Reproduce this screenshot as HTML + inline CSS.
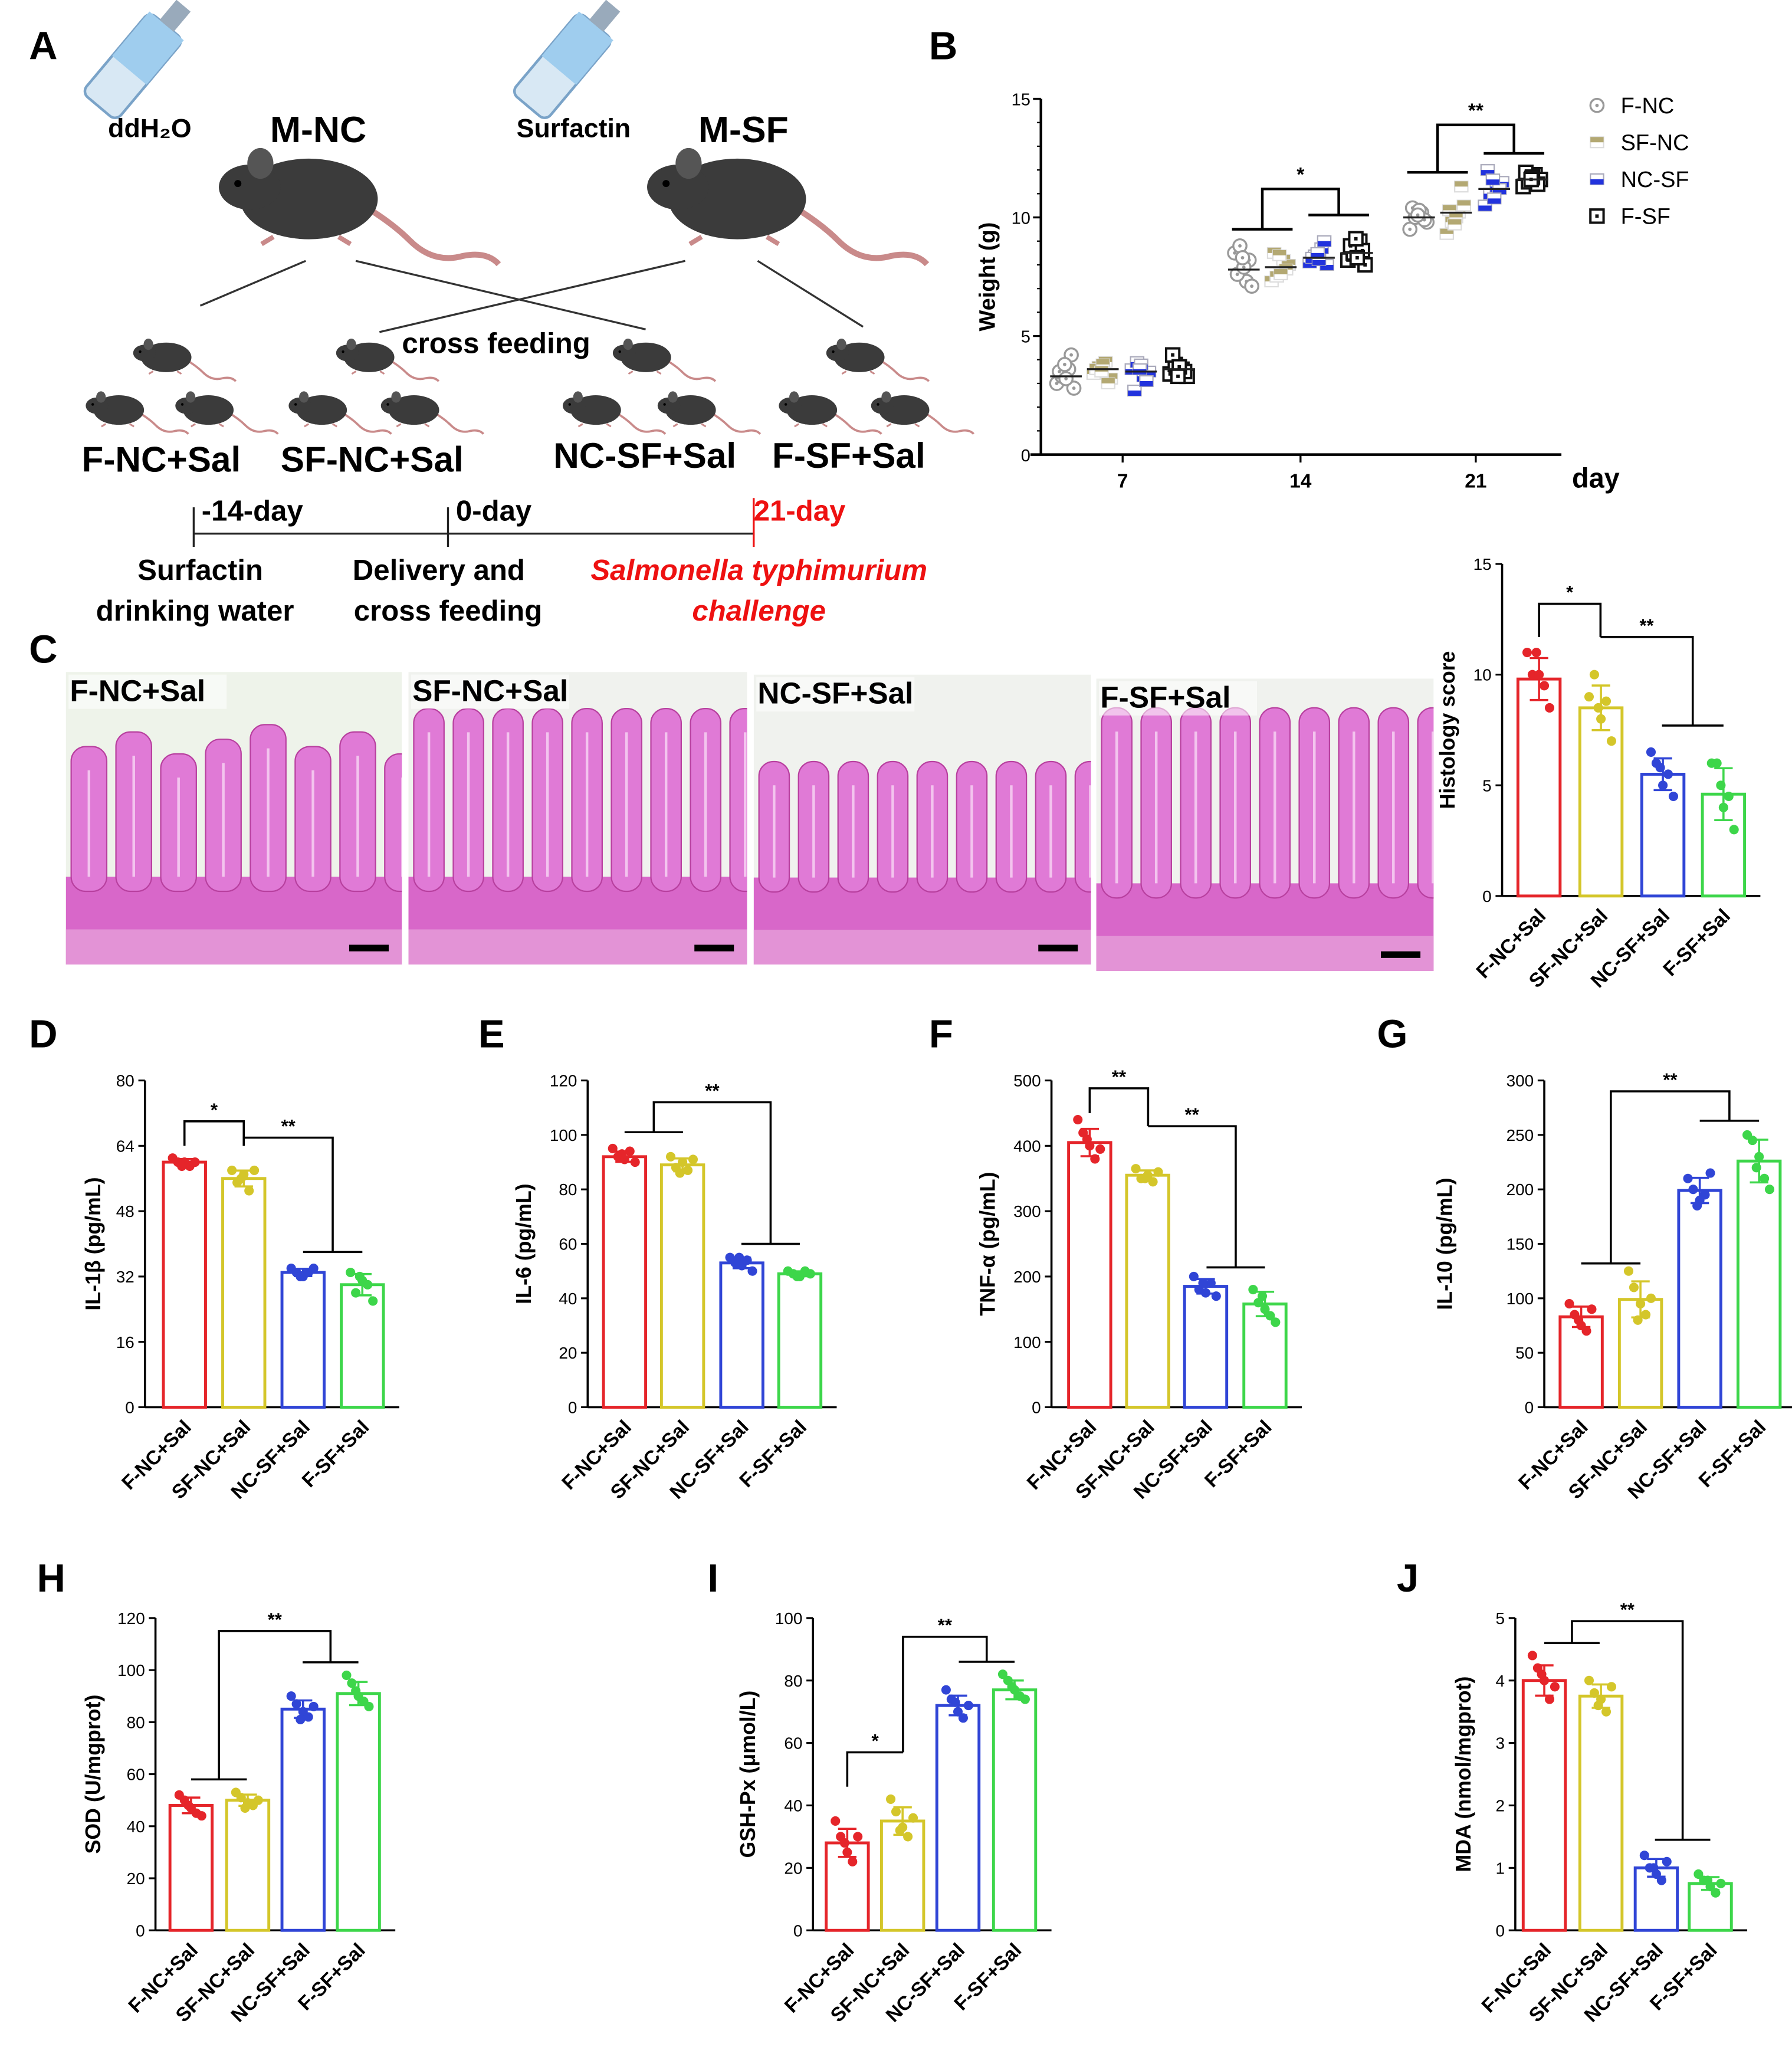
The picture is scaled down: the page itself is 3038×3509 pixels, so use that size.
<!DOCTYPE html>
<html><head><meta charset="utf-8"><style>
html,body{margin:0;padding:0;background:#fff}
svg{display:block}
text{font-family:"Liberation Sans",Arial,sans-serif}
</style></head><body>
<svg id="fig" xmlns="http://www.w3.org/2000/svg" width="3038" height="3509" viewBox="0 0 1360 1571" preserveAspectRatio="none">
<rect width="1360" height="1571" fill="#fff"/>
<g id="panelA">
<g id="bottles"></g>
<g id="mice"></g>
<text x="22" y="45" font-size="30" font-weight="bold">A</text>
<text x="82" y="104" font-size="20" font-weight="bold">ddH₂O</text>
<text x="205" y="108" font-size="28" font-weight="bold">M-NC</text>
<text x="392" y="104" font-size="20" font-weight="bold">Surfactin</text>
<text x="530" y="108" font-size="28" font-weight="bold">M-SF</text>
<text x="305" y="268" font-size="22" font-weight="bold">cross feeding</text>
<g font-size="27" font-weight="bold">
<text x="62" y="358">F-NC+Sal</text>
<text x="213" y="358">SF-NC+Sal</text>
<text x="420" y="355">NC-SF+Sal</text>
<text x="586" y="355">F-SF+Sal</text>
</g>
<g stroke="#222" stroke-width="1.5">
<line x1="147" y1="405" x2="572" y2="405"/><line x1="147" y1="385" x2="147" y2="415"/><line x1="340" y1="385" x2="340" y2="415"/><line x1="572" y1="378" x2="572" y2="415" stroke="#e11"/>
</g>
<g font-size="22" font-weight="bold">
<text x="153" y="395">-14-day</text>
<text x="346" y="395">0-day</text>
<text x="572" y="395" fill="#e11">21-day</text>
<text x="152" y="440" text-anchor="middle">Surfactin</text>
<text x="148" y="471" text-anchor="middle">drinking water</text>
<text x="333" y="440" text-anchor="middle">Delivery and</text>
<text x="340" y="471" text-anchor="middle">cross feeding</text>
<text x="576" y="440" text-anchor="middle" fill="#e11" font-style="italic">Salmonella typhimurium</text>
<text x="576" y="471" text-anchor="middle" fill="#e11" font-style="italic">challenge</text>
</g>
<g stroke="#333" stroke-width="1.5" fill="none">
<line x1="232" y1="198" x2="152" y2="232"/><line x1="270" y1="198" x2="490" y2="250"/><line x1="520" y1="198" x2="288" y2="252"/><line x1="575" y1="198" x2="655" y2="248"/>
</g>
</g>
<g id="panelB"></g>
<g id="panelC"></g>
<g id="charts"></g>
</svg>
<script>
// ---------- data ----------
const groups=['F-NC+Sal','SF-NC+Sal','NC-SF+Sal','F-SF+Sal'];
const days=['7','14','21'];
const weightSeries=['F-NC','SF-NC','NC-SF','F-SF'];
const weightMeans=[[3.3,3.6,3.5,3.6],[7.8,7.9,8.3,8.5],[10.0,10.2,11.2,11.6]];
const weightPts=[
 [[3.0,3.3,3.6,2.8,3.5,4.2,3.2,3.8],[3.4,3.7,3.9,3.2,3.6,3.0,3.8,3.5],[3.6,3.9,3.3,3.5,2.7,3.1,3.8,3.6],[3.4,3.8,3.6,3.3,4.2,3.5,3.7,3.3]],
 [[8.5,8.8,7.3,7.1,7.6,8.2,7.9,8.3],[7.3,7.5,8.2,8.0,8.5,7.8,7.6,8.4],[8.1,8.4,8.7,8.0,8.3,9.0,8.2,8.5],[8.2,8.5,9.0,8.0,8.8,8.6,8.3,9.1]],
 [[9.5,10.0,10.2,9.8,10.4,9.9,10.3,10.1],[9.3,9.8,10.2,10.5,10.3,11.3,10.0,9.7],[10.5,11.0,11.3,11.5,12.0,11.2,10.8,11.6],[11.3,11.5,11.8,11.6,11.9,11.4,11.7,11.6]]
];
const histMeans=[9.8,8.5,5.5,4.6];
const histPts=[[11,10,10,9.5,8.5,11],[9,10,8,8.8,7,8.5],[6.5,6,5,5.5,4.5,5.8],[6,6,4,4.5,3,5]];
const il1bMeans=[60,56,33,30];
const il1bPts=[[61,60,60,59,60,59],[58,55,57,53,58,56],[34,33,32,33,34,32],[33,28,31,30,26,32]];
const il6Means=[92,89,53,49];
const il6Pts=[[95,92,91,94,90,93],[92,88,90,87,91,86],[55,53,52,54,50,55],[50,49,48,50,49,48]];
const tnfMeans=[405,355,185,158];
const tnfPts=[[440,420,400,380,395,410],[365,350,355,345,360,350],[200,180,175,190,170,190],[180,160,150,140,130,170]];
const il10Means=[83,99,199,226];
const il10Pts=[[95,85,75,70,90,80],[125,110,95,85,100,80],[210,200,190,195,215,185],[250,245,230,210,200,220]];
const sodMeans=[48,50,85,91];
const sodPts=[[52,50,47,45,44,48],[53,51,49,48,50,47],[90,87,84,82,86,81],[98,95,90,88,86,92]];
const gshMeans=[28,35,72,77];
const gshPts=[[35,30,25,22,30,28],[42,38,33,30,36,32],[77,74,70,68,72,73],[82,80,77,75,74,78]];
const mdaMeans=[4.0,3.75,1.0,0.75];
const mdaPts=[[4.4,4.2,4.0,3.7,3.9,4.1],[4.0,3.8,3.7,3.5,3.9,3.6],[1.2,1.0,0.9,0.8,1.1,1.0],[0.9,0.8,0.7,0.6,0.75,0.8]];

const NS='http://www.w3.org/2000/svg';
const colors=['#e5252a','#d4c62a','#3045d6','#3dd64a'];
function mk(parent,tag,attrs,txt){const e=document.createElementNS(NS,tag);for(const k in attrs)e.setAttribute(k,attrs[k]);if(txt!==undefined)e.textContent=txt;parent.appendChild(e);return e;}

// ---------- mice / bottles ----------
const M=document.getElementById('mice');
function mouse(x,y,s){
 const g=mk(M,'g',{transform:`translate(${x},${y}) scale(${s})`});
 
 
 mk(g,'path',{d:'M100,45 Q125,60 140,75 Q160,95 185,88 Q205,84 215,95',fill:'none',stroke:'#c98a8a','stroke-width':5});
 mk(g,'ellipse',{cx:55,cy:40,rx:58,ry:34,fill:'#3b3b3b'});
 mk(g,'ellipse',{cx:5,cy:30,rx:26,ry:19,fill:'#3b3b3b'});
 mk(g,'ellipse',{cx:14,cy:10,rx:11,ry:13,fill:'#555'});
 mk(g,'circle',{cx:-5,cy:27,r:3,fill:'#000'});
 mk(g,'path',{d:'M25,72 l-10,6 M80,72 l10,6',stroke:'#c98a8a','stroke-width':4});
}
mouse(185,115,0.9);mouse(510,115,0.9);
[[108,258],[72,298],[140,298],[262,258],[226,298],[296,298],[472,258],[434,298],[506,298],[634,258],[598,298],[668,298]].forEach(p=>mouse(p[0],p[1],0.33));
const BT=document.getElementById('bottles');
function bottle(x,y){
 const g=mk(BT,'g',{transform:`translate(${x},${y}) rotate(-50)`});
 
 
 mk(g,'rect',{x:0,y:0,width:80,height:34,rx:6,fill:'#d8e8f4',stroke:'#7aa3c8','stroke-width':2});
 mk(g,'rect',{x:36,y:0,width:44,height:34,fill:'#9fcdee'});
 mk(g,'rect',{x:80,y:10,width:20,height:14,fill:'#9ab'});
}
bottle(62,70);bottle(388,70);

// ---------- panel B ----------
(function(){
 const B=document.getElementById('panelB');
 const x0=790,x1=1185,yT=75,yB=345,max=15;
 const y=v=>yB-(v/max)*(yB-yT);
 const dayX=[852,987,1120],off=[-43,-15,14,43];
 mk(B,'text',{x:705,y:45,'font-size':30,'font-weight':'bold'},'B');
 mk(B,'line',{x1:x0,y1:yT,x2:x0,y2:yB,stroke:'#000','stroke-width':2});
 mk(B,'line',{x1:x0-8,y1:yB,x2:x1,y2:yB,stroke:'#000','stroke-width':2});
 for(let v=0;v<=15;v+=5){mk(B,'line',{x1:x0-6,y1:y(v),x2:x0,y2:y(v),stroke:'#000','stroke-width':1.5});
  const t=mk(B,'text',{x:x0-8,y:y(v)+5,'font-size':13,'text-anchor':'end'},v);}
 for(let v=1;v<15;v++)mk(B,'line',{x1:x0-3,y1:y(v),x2:x0,y2:y(v),stroke:'#000','stroke-width':1});
 days.forEach((d,i)=>{mk(B,'line',{x1:dayX[i],y1:yB,x2:dayX[i],y2:yB+6,stroke:'#000','stroke-width':1.5});
  const t=mk(B,'text',{x:dayX[i],y:yB+25,'font-size':15,'font-weight':'bold','text-anchor':'middle'},d);});
 const dl=mk(B,'text',{x:1193,y:370,'font-size':21,'font-weight':'bold'},'day');
 const yl=mk(B,'text',{x:755,y:210,'font-size':17,'font-weight':'bold','text-anchor':'middle',transform:'rotate(-90 755 210)'},'Weight (g)');
 const mcol=['#999','#b3a872','#2233dd','#111'];
 function marker(g,s,cx,cy){
  if(s===0){mk(g,'circle',{cx,cy,r:5,fill:'#fff',stroke:mcol[0],'stroke-width':1.5});mk(g,'circle',{cx,cy,r:1.3,fill:mcol[0]});}
  else if(s===1){mk(g,'rect',{x:cx-5,y:cy-4,width:10,height:8,fill:'#fff',stroke:'#ddd'});mk(g,'rect',{x:cx-5,y:cy-4,width:10,height:4,fill:mcol[1]});}
  else if(s===2){mk(g,'rect',{x:cx-5,y:cy-4,width:10,height:8,fill:'#fff',stroke:'#aab'});mk(g,'rect',{x:cx-5,y:cy,width:10,height:4,fill:mcol[2]});}
  else {mk(g,'rect',{x:cx-5,y:cy-5,width:10,height:10,fill:'#fff',stroke:mcol[3],'stroke-width':1.8});mk(g,'rect',{x:cx-1.3,y:cy-1.3,width:2.6,height:2.6,fill:mcol[3]});}
 }
 const jit=[-7,-3,2,6,-5,4,0,-1];
 weightPts.forEach((dayArr,di)=>dayArr.forEach((pts,s)=>{
  const g=mk(B,'g',{});
  
  
  const cx=dayX[di]+off[s];
  pts.forEach((v,k)=>marker(g,s,cx+jit[k],y(v)));
  mk(g,'line',{x1:cx-12,y1:y(weightMeans[di][s]),x2:cx+12,y2:y(weightMeans[di][s]),stroke:'#222','stroke-width':1.5});
 }));
 const br=mk(B,'g',{fill:'none',stroke:'#000','stroke-width':2});
 
 const pairs=[[1,9.5,11.2,10.1,'*'],[2,11.9,13.9,12.7,'**']];
 pairs.forEach(p=>{const c=dayX[p[0]];const lx=c-29,rx=c+29;
  mk(br,'path',{d:`M${lx-23},${y(p[1])}H${lx+23}M${lx},${y(p[1])}V${y(p[2])}H${rx}V${y(p[3])}M${rx-23},${y(p[3])}H${rx+23}`});
  mk(B,'text',{x:c,y:y(p[2])-6,'font-size':15,'font-weight':'bold','text-anchor':'middle'},p[4]);});
 weightSeries.forEach((n,s)=>{const g=mk(B,'g',{});
  marker(g,s,1212,80+s*28);mk(g,'text',{x:1230,y:86+s*28,'font-size':17},n);});
})();

// ---------- panel C histology images ----------
(function(){
 const C=document.getElementById('panelC');
 mk(C,'text',{x:22,y:503,'font-size':30,'font-weight':'bold'},'C');
 const imgs=[[50,510,255,222],[310,510,257,222],[572,512,256,220],[832,515,256,222]];
 imgs.forEach((r,i)=>{const [x,y,w,h]=r;const g=mk(C,'g',{});
  
  const cid='clip'+i;const cp=mk(g,'clipPath',{id:cid});mk(cp,'rect',{x,y,width:w,height:h});
  const inner=mk(g,'g',{'clip-path':`url(#${cid})`});
  mk(inner,'rect',{x,y,width:w,height:h,fill:i===0?'#eef3ea':'#f0f2ee'});
  mk(inner,'rect',{x,y:y+h*0.7,width:w,height:h*0.3,fill:'#d867c9'});
  const top=i===0?0.18:(i===2?0.25:0.05);
  const sp=i===0?34:30;
  for(let vx=x+4;vx<x+w-10;vx+=sp){
   const vt=y+h*(top+((vx*7)%5)/40);
   mk(inner,'rect',{x:vx,y:vt,width:sp-7,height:y+h*0.75-vt,rx:11,fill:'#e07ad6',stroke:'#b8409f','stroke-width':1});
   mk(inner,'line',{x1:vx+(sp-7)/2,y1:vt+18,x2:vx+(sp-7)/2,y2:y+h*0.7,stroke:'#f3c4ee','stroke-width':2});
  }
  mk(inner,'rect',{x,y:y+h*0.88,width:w,height:h*0.12,fill:'#e393d6'});
  mk(inner,'rect',{x:x+w-40,y:y+h-15,width:30,height:5,fill:'#000'});
  mk(inner,'rect',{x:x+2,y:y+2,width:120,height:26,fill:'rgba(255,255,255,0.55)'});
  mk(g,'text',{x:x+3,y:y+22,'font-size':23,'font-weight':'bold'},groups[i]);
 });
})();

// ---------- bar charts ----------
function barChart(c){
 const G=mk(document.getElementById('charts'),'g',{});
 
 
 const y=v=>c.yB-(v/c.max)*(c.yB-c.yT);
 const gx=i=>c.xs[0]+i*(c.xs[3]-c.xs[0])/3;
 const bw=32;
 if(c.letter){const t=mk(G,'text',{x:c.letter[0],y:c.letter[1],'font-size':30,'font-weight':'bold'},c.letter[2]);}
 mk(G,'line',{x1:c.x0,y1:c.yT,x2:c.x0,y2:c.yB,stroke:'#000','stroke-width':1.6});
 mk(G,'line',{x1:c.x0,y1:c.yB,x2:c.xs[3]+28,y2:c.yB,stroke:'#000','stroke-width':1.6});
 for(let v=0;v<=c.max+1e-9;v+=c.step){mk(G,'line',{x1:c.x0-5,y1:y(v),x2:c.x0,y2:y(v),stroke:'#000','stroke-width':1.4});
  const t=mk(G,'text',{x:c.x0-8,y:y(v)+4.5,'font-size':12.5,'text-anchor':'end'},Math.round(v*10)/10);}
 const yl=mk(G,'text',{x:c.ylx,y:(c.yT+c.yB)/2,'font-size':16,'font-weight':'bold','text-anchor':'middle',transform:`rotate(-90 ${c.ylx} ${(c.yT+c.yB)/2})`},c.ylabel);
 
 const jit=[-9,-5,0,4,8,-2];
 c.means.forEach((m,i)=>{const x=c.xs[i];const g=mk(G,'g',{});
  
  
  mk(g,'rect',{x:x-bw/2,y:y(m),width:bw,height:c.yB-y(m),fill:'#fff',stroke:colors[i],'stroke-width':2.2});
  const pts=c.pts[i];const mu=pts.reduce((a,b)=>a+b,0)/pts.length;
  const sd=Math.sqrt(pts.reduce((a,b)=>a+(b-mu)*(b-mu),0)/(pts.length-1));
  mk(g,'path',{d:`M${x},${y(m-sd)}V${y(m+sd)}M${x-7},${y(m+sd)}H${x+7}M${x-7},${y(m-sd)}H${x+7}`,stroke:colors[i],'stroke-width':1.6,fill:'none'});
  pts.forEach((v,k)=>mk(g,'circle',{cx:x+jit[k],cy:y(v),r:3.6,fill:colors[i]}));
  const t=mk(G,'text',{x:x+6,y:c.yB+16,'font-size':15,'font-weight':'bold','text-anchor':'end',transform:`rotate(-45 ${x+6} ${c.yB+16})`},groups[i]);
  
 });
 c.br.forEach(b=>{const lx=gx(b.l),rx=gx(b.r);const hs=(c.xs[3]-c.xs[0])/3;
  let d=`M${lx},${y(b.lb)}V${y(b.top)}H${rx}V${y(b.rb)}`;
  if(b.ls)d+=`M${lx-b.ls*hs},${y(b.lb)}H${lx+b.ls*hs}`;
  if(b.rs)d+=`M${rx-b.rs*hs},${y(b.rb)}H${rx+b.rs*hs}`;
  const p=mk(G,'path',{d,fill:'none',stroke:'#000','stroke-width':1.6});
  
  mk(G,'text',{x:(lx+rx)/2,y:y(b.top)-4,'font-size':14,'font-weight':'bold','text-anchor':'middle'},b.t);
 });
}
barChart({name:'histology-score-chart',x0:1140,yT:428,yB:680,max:15,step:5,xs:[1168,1215,1262,1308],means:histMeans,pts:histPts,ylabel:'Histology score',ylx:1104,
 br:[{l:0,r:1,top:13.2,lb:11.7,rb:11.7,t:'*'},{l:1,r:2.5,top:11.7,lb:11.7,rb:7.7,rs:.5,t:'**'}]});
barChart({name:'il1b-chart',letter:[22,795,'D'],x0:110,yT:820,yB:1068,max:80,step:16,xs:[140,185,230,275],means:il1bMeans,pts:il1bPts,ylabel:'IL-1β (pg/mL)',ylx:76,
 br:[{l:0,r:1,top:70,lb:64,rb:64,t:'*'},{l:1,r:2.5,top:66,lb:64,rb:38,rs:.5,t:'**'}]});
barChart({name:'il6-chart',letter:[363,795,'E'],x0:446,yT:820,yB:1068,max:120,step:20,xs:[474,518,563,607],means:il6Means,pts:il6Pts,ylabel:'IL-6 (pg/mL)',ylx:403,
 br:[{l:.5,r:2.5,top:112,lb:101,rb:60,ls:.5,rs:.5,t:'**'}]});
barChart({name:'tnf-alpha-chart',letter:[705,795,'F'],x0:798,yT:820,yB:1068,max:500,step:100,xs:[827,871,915,960],means:tnfMeans,pts:tnfPts,ylabel:'TNF-α (pg/mL)',ylx:755,
 br:[{l:0,r:1,top:488,lb:450,rb:430,t:'**'},{l:1,r:2.5,top:430,lb:430,rb:214,rs:.5,t:'**'}]});
barChart({name:'il10-chart',letter:[1045,795,'G'],x0:1172,yT:820,yB:1068,max:300,step:50,xs:[1200,1245,1290,1335],means:il10Means,pts:il10Pts,ylabel:'IL-10 (pg/mL)',ylx:1102,
 br:[{l:.5,r:2.5,top:290,lb:132,rb:263,ls:.5,rs:.5,t:'**'}]});
barChart({name:'sod-chart',letter:[28,1208,'H'],x0:118,yT:1228,yB:1465,max:120,step:20,xs:[145,188,230,272],means:sodMeans,pts:sodPts,ylabel:'SOD (U/mgprot)',ylx:76,
 br:[{l:.5,r:2.5,top:115,lb:58,rb:103,ls:.5,rs:.5,t:'**'}]});
barChart({name:'gsh-px-chart',letter:[537,1208,'I'],x0:617,yT:1228,yB:1465,max:100,step:20,xs:[643,685,727,770],means:gshMeans,pts:gshPts,ylabel:'GSH-Px (μmol/L)',ylx:573,
 br:[{l:0,r:1,top:57,lb:46,rb:57,t:'*'},{l:1,r:2.5,top:94,lb:57,rb:86,rs:.5,t:'**'}]});
barChart({name:'mda-chart',letter:[1060,1208,'J'],x0:1150,yT:1228,yB:1465,max:5,step:1,xs:[1172,1215,1257,1298],means:mdaMeans,pts:mdaPts,ylabel:'MDA (nmol/mgprot)',ylx:1116,
 br:[{l:.5,r:2.5,top:4.95,lb:4.6,rb:1.45,ls:.5,rs:.5,t:'**'}]});
</script>
</body></html>
